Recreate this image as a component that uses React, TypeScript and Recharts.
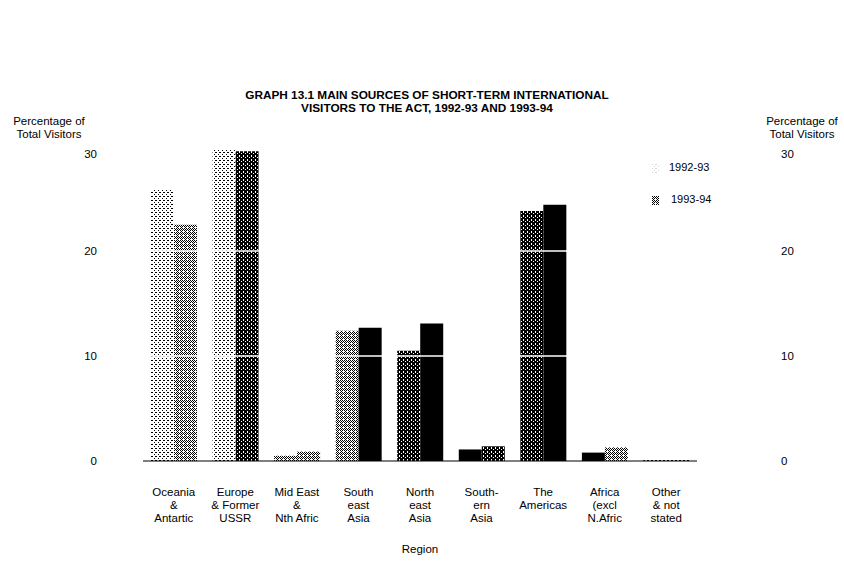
import React from 'react';
import { BarChart, Bar, XAxis, YAxis, Cell, ReferenceLine, Label } from 'recharts';

// regions on the x axis, and how their labels wrap
const regions = [
  'Oceania & Antartic',
  'Europe & Former USSR',
  'Mid East & Nth Afric',
  'South east Asia',
  'North east Asia',
  'Southern Asia',
  'The Americas',
  'Africa (excl N.Afric',
  'Other & not stated',
];
const regionLines = [
  ['Oceania', '&', 'Antartic'],
  ['Europe', '& Former', 'USSR'],
  ['Mid East', '&', 'Nth Afric'],
  ['South', 'east', 'Asia'],
  ['North', 'east', 'Asia'],
  ['South-', 'ern', 'Asia'],
  ['The', 'Americas', ''],
  ['Africa', '(excl', 'N.Afric'],
  ['Other', '& not', 'stated'],
];

// percentage of total visitors
const visitors9293 = [25.8, 29.7, 0.5, 12.4, 10.5, 1.1, 23.8, 0.8, 0.1];
const visitors9394 = [22.5, 29.5, 0.9, 12.7, 13.1, 1.4, 24.4, 1.3, 0.1];

const yTicks = [0, 10, 20, 30];

// the scan's dither density for each bar
const shade9293 = ['light', 'light', 'mid', 'mid', 'dark', 'black', 'dark', 'black', 'light'];
const shade9394 = ['mid', 'dark', 'mid', 'black', 'black', 'dark', 'black', 'mid', 'light'];

const data = regions.map((name, i) => ({
  name,
  y9293: visitors9293[i],
  y9394: visitors9394[i],
}));

const FONT = '"Liberation Sans", Arial, sans-serif';

const fillFor = (s: string) => (s === 'black' ? '#000' : `url(#dither-${s})`);

const RegionTick = (props: any) => {
  const { x, y, payload } = props;
  const idx = regions.indexOf(payload.value);
  const lines = regionLines[idx] || [];
  return (
    <g>
      {lines.map((ln, k) => (
        <text
          key={k}
          x={x}
          y={y + 35 + k * 13}
          textAnchor="middle"
          fontSize={11.5}
          fontFamily={FONT}
          fill="#000"
        >
          {ln}
        </text>
      ))}
    </g>
  );
};

// top label sits a little lower in the original, under the axis title
const ValueTick = (props: any) => {
  const { x, y, payload, textAnchor } = props;
  const top = payload.value === yTicks[yTicks.length - 1];
  return (
    <text
      x={x}
      y={y + (top ? 8 : 0)}
      dy={4}
      textAnchor={textAnchor}
      fontSize={11.5}
      fontFamily={FONT}
      fill="#000"
    >
      {payload.value}
    </text>
  );
};

const Patterns = () => (
  <defs>
    <pattern id="dither-light" width="4" height="4" patternUnits="userSpaceOnUse">
      <rect width="4" height="4" fill="#fff" />
      <rect x="0" y="0" width="1" height="1" fill="#000" />
      <rect x="2" y="2" width="1" height="1" fill="#000" />
      <rect x="3" y="0" width="1" height="1" fill="#000" />
    </pattern>
    <pattern id="dither-mid" width="4" height="4" patternUnits="userSpaceOnUse">
      <rect width="4" height="4" fill="#fff" />
      <rect x="0" y="0" width="1" height="1" fill="#000" />
      <rect x="2" y="0" width="1" height="1" fill="#000" />
      <rect x="1" y="1" width="1" height="1" fill="#000" />
      <rect x="3" y="1" width="1" height="1" fill="#000" />
      <rect x="0" y="2" width="1" height="1" fill="#000" />
      <rect x="2" y="2" width="1" height="1" fill="#000" />
      <rect x="1" y="3" width="1" height="1" fill="#000" />
    </pattern>
    <pattern id="dither-dark" width="4" height="4" patternUnits="userSpaceOnUse">
      <rect width="4" height="4" fill="#000" />
      <rect x="1" y="1" width="1" height="1" fill="#fff" />
      <rect x="3" y="3" width="1" height="1" fill="#fff" />
      <rect x="3" y="0" width="1" height="1" fill="#fff" />
    </pattern>
  </defs>
);

const Swatch = ({ shade }: { shade: string }) => (
  <svg width={7} height={9} style={{ display: 'block' }}>
    <Patterns />
    <rect width={7} height={9} fill={fillFor(shade)} />
  </svg>
);

const textStyle: React.CSSProperties = {
  position: 'absolute',
  fontFamily: FONT,
  fontSize: 11.5,
  lineHeight: '13px',
  color: '#000',
  textAlign: 'center',
  whiteSpace: 'nowrap',
};

export default function App() {
  return (
    <div style={{ position: 'absolute', left: 0, top: 0, width: 844, height: 584, background: '#fff' }}>
      <div
        style={{
          ...textStyle,
          left: 0,
          width: 854,
          top: 89,
          fontSize: 11.8,
          fontWeight: 'bold',
        }}
      >
        GRAPH 13.1 MAIN SOURCES OF SHORT-TERM INTERNATIONAL
        <br />
        VISITORS TO THE ACT, 1992-93 AND 1993-94
      </div>

      <div style={{ ...textStyle, left: 4, width: 90, top: 115 }}>
        Percentage of
        <br />
        Total Visitors
      </div>
      <div style={{ ...textStyle, left: 757, width: 90, top: 115 }}>
        Percentage of
        <br />
        Total Visitors
      </div>

      {/* legend */}
      <div style={{ ...textStyle, left: 669, top: 161, fontSize: 11, textAlign: 'left' }}>1992-93</div>
      <div style={{ position: 'absolute', left: 652, top: 164, opacity: 0.15 }}>
        <Swatch shade="light" />
      </div>
      <div style={{ ...textStyle, left: 671, top: 193, fontSize: 11, textAlign: 'left' }}>1993-94</div>
      <div style={{ position: 'absolute', left: 652, top: 196 }}>
        <Swatch shade="mid" />
      </div>

      <div style={{ position: 'absolute', left: 0, top: 0 }}>
        <BarChart
          width={844}
          height={584}
          data={data}
          margin={{ top: 146, right: 0, bottom: 23, left: 0 }}
          barCategoryGap={8}
          barGap={0}
        >
          <Patterns />
          <XAxis
            dataKey="name"
            interval={0}
            tickLine={false}
            tickSize={0}
            tickMargin={0}
            height={100}
            axisLine={{ stroke: '#000', strokeWidth: 1 }}
            tick={<RegionTick />}
          >
            <Label
              value="Region"
              position="insideBottom"
              offset={8}
              style={{ fontFamily: FONT, fontSize: 11.5, fill: '#000' }}
            />
          </XAxis>
          <YAxis
            yAxisId="left"
            width={143}
            domain={[0, 30]}
            ticks={yTicks}
            interval={0}
            axisLine={false}
            tickLine={false}
            tickSize={0}
            tickMargin={46}
            tick={<ValueTick />}
          />
          <YAxis
            yAxisId="right"
            orientation="right"
            width={147}
            domain={[0, 30]}
            ticks={yTicks}
            interval={0}
            axisLine={false}
            tickLine={false}
            tickSize={0}
            tickMargin={84}
            tick={<ValueTick />}
          />
          <Bar yAxisId="left" dataKey="y9293" isAnimationActive={false}>
            {data.map((_, i) => (
              <Cell key={i} fill={fillFor(shade9293[i])} />
            ))}
          </Bar>
          <Bar yAxisId="right" dataKey="y9394" isAnimationActive={false}>
            {data.map((_, i) => (
              <Cell key={i} fill={fillFor(shade9394[i])} />
            ))}
          </Bar>
          <ReferenceLine yAxisId="left" y={10} stroke="#fff" strokeWidth={1.5} />
          <ReferenceLine yAxisId="left" y={20} stroke="#fff" strokeWidth={1.5} />
        </BarChart>
      </div>
    </div>
  );
}
